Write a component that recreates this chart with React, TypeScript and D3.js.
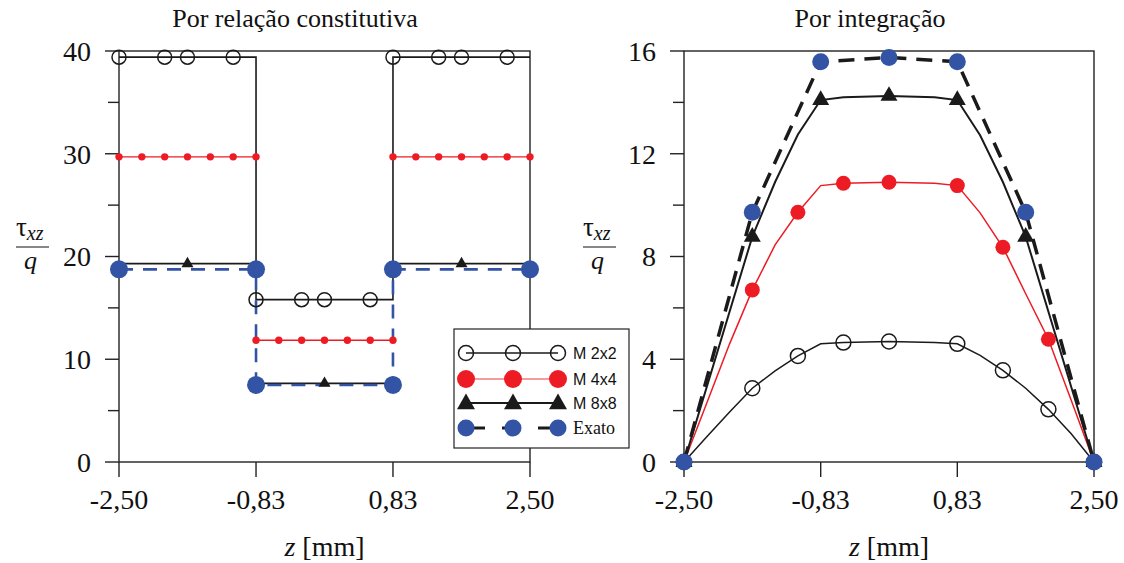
import React from 'react';
import * as d3 from 'd3';

// ---------- shared axis data ----------
const xTicks = [-2.5, -0.833, 0.833, 2.5];
const xTickLabels = ['-2,50', '-0,83', '0,83', '2,50'];
const leftYTicks = [0, 10, 20, 30, 40];
const leftYMinor = [5, 15, 25, 35];
const rightYTicks = [0, 4, 8, 12, 16];
const rightYMinor = [2, 6, 10, 14];

// ---------- left panel: Por relação constitutiva ----------
const L2_lineZ = [-2.5, -0.833, -0.833, 0.833, 0.833, 2.5];
const L2_lineV = [39.4, 39.4, 15.8, 15.8, 39.4, 39.4];
const L2_markZ = [-2.5, -1.944, -1.667, -1.111, -0.833, -0.278, 0, 0.556, 0.833, 1.389, 1.667, 2.222];
const L2_markV = [39.4, 39.4, 39.4, 39.4, 15.8, 15.8, 15.8, 15.8, 39.4, 39.4, 39.4, 39.4];

const L4_lineZ = [-2.5, -0.833, NaN, -0.833, 0.833, NaN, 0.833, 2.5];
const L4_lineV = [29.7, 29.7, NaN, 11.85, 11.85, NaN, 29.7, 29.7];
const L4_markZ = [
  -2.5, -2.222, -1.944, -1.667, -1.389, -1.111, -0.833,
  -0.833, -0.556, -0.278, 0, 0.278, 0.556, 0.833,
  0.833, 1.111, 1.389, 1.667, 1.944, 2.222, 2.5,
];
const L4_markV = [
  29.7, 29.7, 29.7, 29.7, 29.7, 29.7, 29.7,
  11.85, 11.85, 11.85, 11.85, 11.85, 11.85, 11.85,
  29.7, 29.7, 29.7, 29.7, 29.7, 29.7, 29.7,
];

const L8_lineZ = [-2.5, -0.833, NaN, -0.833, 0.833, NaN, 0.833, 2.5];
const L8_lineV = [19.3, 19.3, NaN, 7.65, 7.65, NaN, 19.3, 19.3];
const L8_markZ = [-1.667, 0, 1.667];
const L8_markV = [19.3, 7.65, 19.3];

const LEx_lineZ = [-2.5, -0.833, -0.833, 0.833, 0.833, 2.5];
const LEx_lineV = [18.75, 18.75, 7.5, 7.5, 18.75, 18.75];

// ---------- right panel: Por integração ----------
const R2_lineZ = [-2.5, -2.222, -1.944, -1.667, -1.389, -1.111, -0.833, -0.556, 0, 0.556, 0.833, 1.111, 1.389, 1.667, 1.944, 2.222, 2.5];
const R2_lineV = [0, 0.98, 1.95, 2.87, 3.55, 4.13, 4.6, 4.65, 4.69, 4.65, 4.6, 4.15, 3.57, 2.87, 2.05, 1.1, 0];
const R2_markZ = [-2.5, -1.667, -1.111, -0.556, 0, 0.833, 1.389, 1.944, 2.5];
const R2_markV = [0, 2.87, 4.13, 4.65, 4.69, 4.6, 3.57, 2.05, 0];

const R4_lineZ = [-2.5, -2.222, -1.944, -1.667, -1.389, -1.111, -0.833, -0.556, 0, 0.556, 0.833, 1.111, 1.389, 1.667, 1.944, 2.222, 2.5];
const R4_lineV = [0, 2.3, 4.6, 6.7, 8.45, 9.72, 10.76, 10.85, 10.89, 10.85, 10.76, 9.7, 8.36, 6.55, 4.78, 2.4, 0];
const R4_markZ = [-2.5, -1.667, -1.111, -0.556, 0, 0.833, 1.389, 1.944, 2.5];
const R4_markV = [0, 6.7, 9.72, 10.85, 10.89, 10.76, 8.36, 4.78, 0];

const R8_lineZ = [-2.5, -1.667, -1.389, -1.111, -0.833, -0.556, 0, 0.556, 0.833, 1.111, 1.389, 1.667, 2.5];
const R8_lineV = [0, 8.77, 10.9, 12.75, 14.09, 14.2, 14.25, 14.2, 14.09, 12.72, 10.9, 8.77, 0];
const R8_markZ = [-2.5, -1.667, -0.833, 0, 0.833, 1.667, 2.5];
const R8_markV = [0, 8.77, 14.09, 14.25, 14.09, 8.77, 0];

const REx_lineZ = [-2.5, -1.667, -0.833, 0, 0.833, 1.667, 2.5];
const REx_lineV = [0, 9.72, 15.58, 15.75, 15.58, 9.72, 0];

// ---------- legend ----------
const legendLabels = ['M 2x2', 'M 4x4', 'M 8x8', 'Exato'];

const BLUE = '#3353a4';
const RED = '#ed1c24';
const INK = '#1a1a1a';
const SERIF = '"Liberation Serif", "Times New Roman", serif';
const SANS = '"Liberation Sans", Arial, sans-serif';

type Pt = [number, number];
const zip = (a: number[], b: number[]): Pt[] => a.map((z, i) => [z, b[i]]);

function Marker({ kind, x, y, r }: { kind: string; x: number; y: number; r: number }) {
  if (kind === 'open')
    return <circle cx={x} cy={y} r={r} fill="none" stroke={INK} strokeWidth={1.5} />;
  if (kind === 'red') return <circle cx={x} cy={y} r={r} fill={RED} />;
  if (kind === 'blue') return <circle cx={x} cy={y} r={r} fill={BLUE} />;
  const p = d3.symbol().type(d3.symbolTriangle).size(r)();
  return <path d={p || ''} transform={`translate(${x},${y})`} fill={INK} />;
}

function YLabel({ x }: { x: number }) {
  return (
    <g fontFamily={SERIF} fill="#111">
      <text x={x} y={236} fontSize={27}>
        τ<tspan fontSize={20} fontStyle="italic" dy={4}>xz</tspan>
      </text>
      <line x1={x} x2={x + 33} y1={247} y2={247} stroke="#111" strokeWidth={1.2} />
      <text x={x + 8} y={269} fontSize={26} fontStyle="italic">q</text>
    </g>
  );
}

interface PanelProps {
  px0: number; px1: number; yMax: number;
  yTicks: number[]; yMinor: number[];
  title: string; titleX: number; ylabX: number;
  lines: { pts: Pt[]; stroke: string; width: number; dash?: string }[];
  marks: { pts: Pt[]; kind: string; r: number }[];
}

function Panel(p: PanelProps) {
  const top = 51, bot = 462;
  const x = d3.scaleLinear().domain([-2.5, 2.5]).range([p.px0, p.px1]);
  const y = d3.scaleLinear().domain([0, p.yMax]).range([bot, top]);
  const line = d3.line<Pt>().defined((d) => !isNaN(d[0]) && !isNaN(d[1])).x((d) => x(d[0])).y((d) => y(d[1]));
  return (
    <g>
      <text x={p.titleX} y={27} textAnchor="middle" fontFamily={SERIF} fontSize={26} fill="#111">{p.title}</text>
      <rect x={p.px0} y={top} width={p.px1 - p.px0} height={bot - top} fill="none" stroke="#222" strokeWidth={1.4} />
      {p.yTicks.map((t) => (
        <g key={'yt' + t}>
          <line x1={p.px0 - 14} x2={p.px0} y1={y(t)} y2={y(t)} stroke="#222" strokeWidth={1.4} />
          <text x={p.px0 - 28} y={y(t)} dy="0.35em" textAnchor="end" fontFamily={SERIF} fontSize={28} fill="#111">{t}</text>
        </g>
      ))}
      {p.yMinor.map((t) => (
        <line key={'ym' + t} x1={p.px0 - 11} x2={p.px0} y1={y(t)} y2={y(t)} stroke="#222" strokeWidth={1.4} />
      ))}
      {xTicks.map((t, i) => (
        <g key={'xt' + i}>
          <line x1={x(t)} x2={x(t)} y1={bot} y2={bot + 15} stroke="#222" strokeWidth={1.4} />
          <text x={x(t)} y={509} textAnchor="middle" fontFamily={SERIF} fontSize={28} fill="#111">{xTickLabels[i]}</text>
        </g>
      ))}
      <text x={(p.px0 + p.px1) / 2} y={556} textAnchor="middle" fontFamily={SERIF} fontSize={28} fill="#111">
        <tspan fontStyle="italic">z</tspan> [mm]
      </text>
      <YLabel x={p.ylabX} />
      {p.lines.map((l, i) => (
        <path key={'l' + i} d={line(l.pts) || ''} fill="none" stroke={l.stroke} strokeWidth={l.width} strokeDasharray={l.dash} />
      ))}
      {p.marks.map((m, i) => (
        <g key={'m' + i}>
          {m.pts.map((d, j) => (
            <Marker key={j} kind={m.kind} x={x(d[0])} y={y(d[1])} r={m.r} />
          ))}
        </g>
      ))}
    </g>
  );
}

function Legend() {
  const lx = [466, 513, 558];
  const rows = [353, 379, 403, 428];
  return (
    <g>
      <rect x={454} y={329} width={175} height={119} fill="#fff" stroke="#222" strokeWidth={1.2} />
      <line x1={466} x2={558} y1={rows[0]} y2={rows[0]} stroke={INK} strokeWidth={1.3} />
      <line x1={466} x2={558} y1={rows[1]} y2={rows[1]} stroke="#f07a7a" strokeWidth={1.5} />
      <line x1={466} x2={558} y1={rows[2]} y2={rows[2]} stroke={INK} strokeWidth={2} />
      <line x1={466} x2={558} y1={rows[3]} y2={rows[3]} stroke={INK} strokeWidth={3} strokeDasharray="19 17" />
      {lx.map((x, i) => (
        <g key={i}>
          <Marker kind="open" x={x} y={rows[0]} r={7.5} />
          <Marker kind="red" x={x} y={rows[1]} r={9} />
          <Marker kind="tri" x={x} y={rows[2] + 1} r={140} />
          <Marker kind="blue" x={x} y={rows[3]} r={8.5} />
        </g>
      ))}
      {legendLabels.map((t, i) => (
        <text key={t} x={573} y={rows[i]} dy="0.36em" fontFamily={i === 3 ? SERIF : SANS} fontSize={i === 3 ? 18 : 16} fill="#111">{t}</text>
      ))}
    </g>
  );
}

export default function App() {
  return (
    <svg width={1124} height={563} style={{ position: 'absolute', left: 0, top: 0, background: '#fff' }}>
      <rect width={1124} height={563} fill="#fff" />
      <Panel
        px0={119} px1={530} yMax={40} yTicks={leftYTicks} yMinor={leftYMinor}
        title="Por relação constitutiva" titleX={295} ylabX={16}
        lines={[
          { pts: zip(L2_lineZ, L2_lineV), stroke: INK, width: 1.6 },
          { pts: zip(L4_lineZ, L4_lineV), stroke: RED, width: 1.3 },
          { pts: zip(L8_lineZ, L8_lineV), stroke: INK, width: 1.8 },
          { pts: zip(LEx_lineZ, LEx_lineV), stroke: BLUE, width: 2.6, dash: '14 10' },
        ]}
        marks={[
          { pts: zip(L2_markZ, L2_markV), kind: 'open', r: 7 },
          { pts: zip(L4_markZ, L4_markV), kind: 'red', r: 3.7 },
          { pts: zip(L8_markZ, L8_markV), kind: 'tri', r: 62 },
          { pts: zip(LEx_lineZ, LEx_lineV), kind: 'blue', r: 9 },
        ]}
      />
      <Panel
        px0={684} px1={1094} yMax={16} yTicks={rightYTicks} yMinor={rightYMinor}
        title="Por integração" titleX={870} ylabX={583}
        lines={[
          { pts: zip(R2_lineZ, R2_lineV), stroke: INK, width: 1.5 },
          { pts: zip(R4_lineZ, R4_lineV), stroke: RED, width: 1.5 },
          { pts: zip(R8_lineZ, R8_lineV), stroke: INK, width: 2 },
          { pts: zip(REx_lineZ, REx_lineV), stroke: INK, width: 3.5, dash: '16 10' },
        ]}
        marks={[
          { pts: zip(R2_markZ, R2_markV), kind: 'open', r: 7.5 },
          { pts: zip(R4_markZ, R4_markV), kind: 'red', r: 7.5 },
          { pts: zip(R8_markZ, R8_markV), kind: 'tri', r: 125 },
          { pts: zip(REx_lineZ, REx_lineV), kind: 'blue', r: 8.5 },
        ]}
      />
      <Legend />
    </svg>
  );
}
